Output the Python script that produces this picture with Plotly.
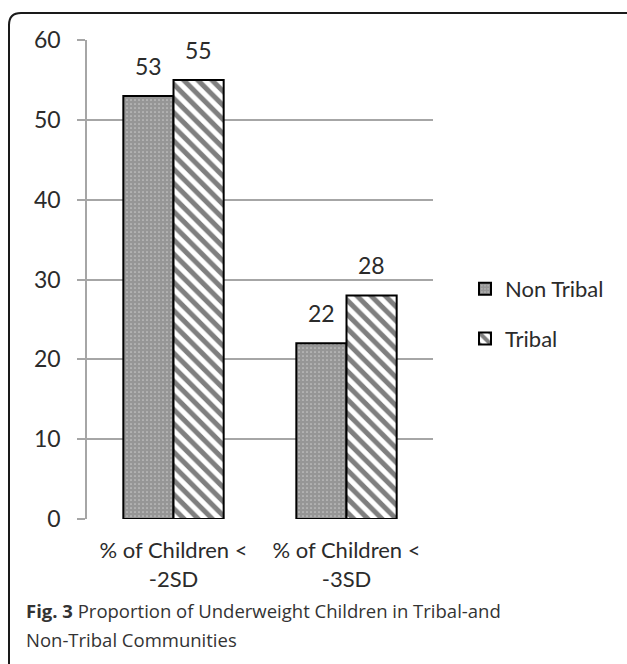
import plotly.graph_objects as go

# Underweight prevalence by community
categories = ["% of Children &lt;<br>-2SD", "% of Children &lt;<br>-3SD"]
non_tribal = [53, 22]
tribal = [55, 28]
y_ticks = [0, 10, 20, 30, 40, 50, 60]

W, H = 627, 664
L, R, T, B = 87, 194, 40, 145
pw, ph = W - L - R, H - T - B


def px_to_paper(x, y):
    return (x - L) / pw, (H - B - y) / ph


txt = "#2b2b2b"
chart_font = "Lato"

fig = go.Figure()
fig.add_trace(go.Bar(
    name="Non Tribal", x=categories, y=non_tribal, legendgroup="a",
    marker=dict(color="white", line=dict(color="black", width=2),
                pattern=dict(shape=".", fgcolor="#2e2e2e", bgcolor="white",
                             size=4, solidity=0.85)),
))
fig.add_trace(go.Bar(
    name="Tribal", x=categories, y=tribal, legendgroup="b",
    marker=dict(color="white", line=dict(color="black", width=2),
                pattern=dict(shape="\\", fgcolor="black", bgcolor="white",
                             size=10, solidity=0.5)),
))

# value labels above each bar
bar_px = pw / len(categories) * (1 - 0.42) / 2
for series, shift in ((non_tribal, -bar_px / 2), (tribal, bar_px / 2)):
    for cat, v in zip(categories, series):
        fig.add_annotation(x=cat, y=v, text=str(v), showarrow=False,
                           xshift=shift, yshift=14, yanchor="bottom",
                           font=dict(family=chart_font, size=23, color=txt))

# caption below the chart
x0, y1 = px_to_paper(24, 610)
_, y2 = px_to_paper(24, 639)
fig.add_annotation(xref="paper", yref="paper", x=x0, y=y1, xanchor="left",
                   yanchor="middle", showarrow=False, align="left",
                   text="<b>Fig. 3</b> Proportion of Underweight Children in Tribal-and",
                   font=dict(family="Open Sans", size=18.5, color="#333333"))
fig.add_annotation(xref="paper", yref="paper", x=x0, y=y2, xanchor="left",
                   yanchor="middle", showarrow=False, align="left",
                   text="Non-Tribal Communities",
                   font=dict(family="Open Sans", size=18.5, color="#333333"))

# rounded frame around the figure
fx0, fy0 = px_to_paper(9, 700)
fx1, fy1 = px_to_paper(9, 13)
fx2, _ = px_to_paper(700, 13)
r = 12
cx, _ = px_to_paper(9 + r, 13)
_, cy = px_to_paper(9, 13 + r)
fig.add_shape(type="path", xref="paper", yref="paper",
              path=f"M {fx0},{fy0} L {fx0},{cy} Q {fx0},{fy1} {cx},{fy1} L {fx2},{fy1}",
              line=dict(color="#1a1a1a", width=2))

lx, ly = px_to_paper(465, 268)
fig.update_layout(
    width=W, height=H,
    margin=dict(l=L, r=R, t=T, b=B, pad=0),
    paper_bgcolor="white", plot_bgcolor="white",
    barmode="group", bargap=0.42, bargroupgap=0,
    font=dict(family=chart_font, size=22, color=txt),
    legend=dict(x=lx, y=ly, xanchor="left", yanchor="top",
                font=dict(family=chart_font, size=22, color=txt),
                tracegroupgap=18, bgcolor="rgba(0,0,0,0)"),
    xaxis=dict(showgrid=False, showline=False, ticks="",
               ticklabelstandoff=16,
               tickfont=dict(family=chart_font, size=22, color=txt)),
    yaxis=dict(range=[0, 60], tickvals=y_ticks, showgrid=True,
               gridcolor="#a6a6a6", gridwidth=1.5, showline=True,
               linecolor="#a6a6a6", linewidth=1.5, ticks="outside",
               ticklen=8, tickcolor="#a6a6a6", tickwidth=1.5,
               zeroline=False, ticklabelstandoff=12,
               tickfont=dict(family=chart_font, size=23, color=txt)),
)

fig.write_html("out.html")
